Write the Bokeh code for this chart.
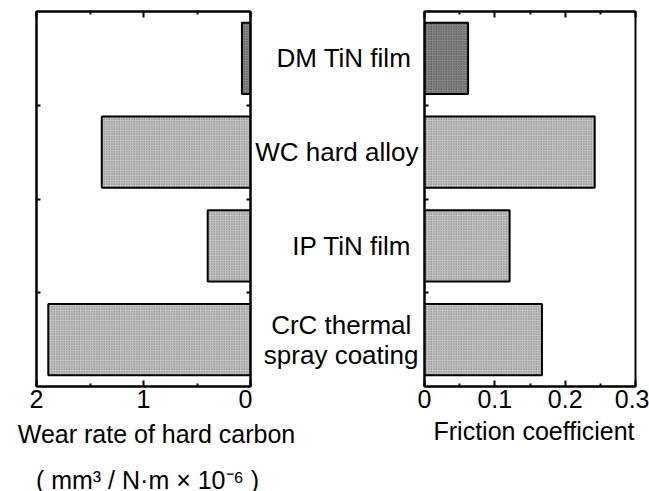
from bokeh.plotting import figure
from bokeh.layouts import row, column
from bokeh.models import Range1d, FixedTicker, LinearAxis, ColumnDataSource
from bokeh.core.properties import value
from bokeh.embed import file_html
from bokeh.resources import INLINE

materials = ["DM TiN  film", "WC hard alloy", "IP TiN  film", "CrC  thermal\nspray coating"]
wear_rate = [0.08, 1.39, 0.40, 1.89]
friction = [0.062, 0.242, 0.121, 0.167]
wear_ticks = [0, 1, 2]
wear_minor = [0.5, 1.5]
fric_ticks = [0, 0.1, 0.2, 0.3]
fric_tick_labels = ["0", "0.1", "0.2", "0.3"]
fric_minor = [0.05, 0.15, 0.25]
titles = ["Wear rate of hard carbon", "( mm³ / N·m × 10⁻⁶ )", "Friction  coefficient"]

n = len(materials)
ypos = [n - i - 0.5 for i in range(n)]
fills = ["#8a8a8a", "#c6c6c6", "#c6c6c6", "#c6c6c6"]
hatch_cols = ["#2e2e2e", "#666666", "#666666", "#666666"]
src = ColumnDataSource(dict(y=ypos, name=materials, wear=wear_rate, fric=friction,
                            fill=fills, hc=hatch_cols))

FONT = "Liberation Sans"
H = 419
TOP = 11
BOT = 33
BAR_H = 0.76
bounds = list(range(1, n))


def style_axis(ax, labels=True):
    ax.axis_line_color = "black"
    ax.axis_line_width = 2
    ax.major_tick_line_color = "black"
    ax.minor_tick_line_color = "black"
    ax.major_tick_line_width = 2
    ax.minor_tick_line_width = 2
    ax.major_tick_out = 0
    ax.minor_tick_out = 0
    ax.major_tick_in = 6
    ax.minor_tick_in = 3
    ax.axis_label_standoff = 0
    ax.axis_label_text_font_size = "1px"
    if labels:
        ax.major_label_text_font = FONT
        ax.major_label_text_font_size = "25px"
        ax.major_label_text_color = "black"
        ax.major_label_standoff = 3
    else:
        ax.major_label_overrides = {t: "" for t in ax.ticker.ticks}
        ax.major_label_text_font_size = "1px"
        ax.major_label_standoff = 0


def base_fig(width, xr, bl, br):
    p = figure(width=width, height=H, x_range=xr, y_range=Range1d(0, n),
               output_backend="svg", toolbar_location=None, title=None,
               x_axis_location=None, y_axis_location=None,
               min_border_left=bl, min_border_right=br,
               min_border_top=TOP, min_border_bottom=BOT)
    p.grid.visible = False
    p.outline_line_color = "black"
    p.outline_line_width = 2
    p.background_fill_color = "white"
    p.border_fill_color = "white"
    return p


def boundary_axis(p, side):
    ya = LinearAxis(ticker=FixedTicker(ticks=bounds, minor_ticks=[]))
    style_axis(ya, labels=False)
    ya.major_tick_in = 4
    p.add_layout(ya, side)


# Left panel: wear rate (reversed axis)
left = base_fig(252, Range1d(wear_ticks[-1], wear_ticks[0]), 36, 2)
left.hbar(y="y", left=0, right="wear", height=BAR_H, source=src,
          fill_color="fill", line_color="black", line_width=2,
          hatch_pattern="dot", hatch_scale=2.5, hatch_color="hc", hatch_weight=1)
xb = LinearAxis(ticker=FixedTicker(ticks=wear_ticks, minor_ticks=wear_minor))
style_axis(xb)
left.add_layout(xb, "below")
xa = LinearAxis(ticker=FixedTicker(ticks=wear_ticks, minor_ticks=wear_minor))
style_axis(xa, labels=False)
left.add_layout(xa, "above")
boundary_axis(left, "left")
boundary_axis(left, "right")

# Right panel: friction coefficient; its left border carries the material names
right = base_fig(397, Range1d(fric_ticks[0], fric_ticks[-1]), 172, 14)
right.hbar(y="y", left=0, right="fric", height=BAR_H, source=src,
           fill_color="fill", line_color="black", line_width=2,
           hatch_pattern="dot", hatch_scale=2.5, hatch_color="hc", hatch_weight=1)
rb = LinearAxis(ticker=FixedTicker(ticks=fric_ticks, minor_ticks=fric_minor),
                major_label_overrides={t: s for t, s in zip(fric_ticks, fric_tick_labels)})
style_axis(rb)
right.add_layout(rb, "below")
ra = LinearAxis(ticker=FixedTicker(ticks=fric_ticks, minor_ticks=fric_minor))
style_axis(ra, labels=False)
right.add_layout(ra, "above")
boundary_axis(right, "left")
cat = LinearAxis(ticker=FixedTicker(ticks=ypos, minor_ticks=[]),
                 major_label_overrides={y: s for y, s in zip(ypos, materials)})
cat.axis_line_color = None
cat.major_tick_line_color = None
cat.major_tick_in = 0
cat.major_tick_out = 0
cat.axis_label_standoff = 0
cat.axis_label_text_font_size = "1px"
cat.major_label_standoff = 6
cat.major_label_text_font = FONT
cat.major_label_text_font_size = "26px"
cat.major_label_text_color = "black"
cat.major_label_text_line_height = 1.0
right.add_layout(cat, "left")

# Bottom strip: axis titles (positions in pixels of the page)
BH = 491 - H
bottom = figure(width=649, height=BH, x_range=Range1d(0, 649), y_range=Range1d(0, BH),
                output_backend="svg", toolbar_location=None, title=None,
                x_axis_location=None, y_axis_location=None,
                min_border_left=0, min_border_right=0, min_border_top=0, min_border_bottom=0)
bottom.grid.visible = False
bottom.outline_line_color = None
bottom.background_fill_color = "white"
bottom.border_fill_color = "white"
bsrc = ColumnDataSource(dict(x=[156, 147, 537], y=[491 - 433, 491 - 479, 491 - 430], t=titles))
bottom.text(x="x", y="y", text="t", source=bsrc, text_align="center",
            text_baseline="middle", text_font=value(FONT), text_font_size="25px",
            text_color="black")

layout = column(row(left, right, spacing=0), bottom, spacing=0)
open("out.html", "w").write(file_html(layout, INLINE))
